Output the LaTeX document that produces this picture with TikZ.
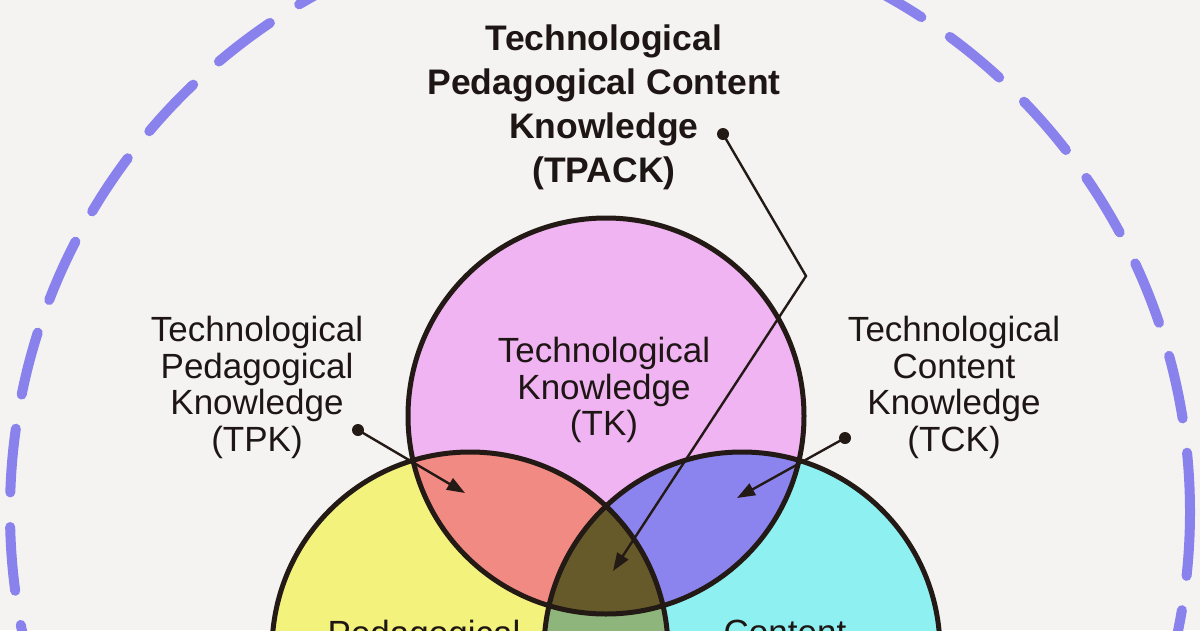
\documentclass[tikz,border=0pt]{standalone}
\usepackage{fontspec}
\setmainfont{Liberation Sans}
\usetikzlibrary{arrows.meta}
\definecolor{bgcol}{RGB}{244,243,242}
\definecolor{dashcol}{RGB}{138,130,236}
\definecolor{tcol}{RGB}{240,180,242}
\definecolor{pcol}{RGB}{243,242,124}
\definecolor{ccol}{RGB}{142,240,240}
\definecolor{tpcol}{RGB}{240,138,130}
\definecolor{tccol}{RGB}{140,132,238}
\definecolor{pccol}{RGB}{142,182,124}
\definecolor{tpccol}{RGB}{103,90,42}
\definecolor{linecol}{RGB}{35,26,22}
\definecolor{txtcol}{RGB}{30,22,20}
\begin{document}
\begin{tikzpicture}[x=1pt,y=-1pt,
  lbl/.style={font=\fontsize{35}{36.5}\selectfont, align=center, inner sep=0pt, anchor=north, text=txtcol},
  titlelbl/.style={font=\fontsize{35.5}{44}\selectfont\bfseries, align=center, inner sep=0pt, anchor=north, text=txtcol},
  outline/.style={draw=linecol, line width=5pt},
  pointer/.style={draw=linecol, line width=2.4pt, -{Triangle[length=18pt,width=13pt]}},
  dotmark/.style={fill=linecol},
  ctx/.style={draw=dashcol, line width=10pt, line cap=round, dash pattern=on 64pt off 34.6pt}
]
\useasboundingbox (0,0) rectangle (1200,630);
\clip (0,0) rectangle (1200,630);
\fill[bgcol] (0,0) rectangle (1200,630);

% contexts (dashed circle)
\coordinate (ctxc) at (600,512);
\draw[ctx] (ctxc) circle[radius=590];

% Venn circle centres
\coordinate (T) at (606,416);
\coordinate (P) at (470,650);
\coordinate (C) at (742,650);

% base fills
\fill[pcol] (P) circle[radius=198pt];
\fill[ccol] (C) circle[radius=198pt];
\fill[tcol] (T) circle[radius=198pt];
% pairwise intersections
\begin{scope}
  \clip (T) circle[radius=198pt];
  \fill[tpcol] (P) circle[radius=198pt];
\end{scope}
\begin{scope}
  \clip (T) circle[radius=198pt];
  \fill[tccol] (C) circle[radius=198pt];
\end{scope}
\begin{scope}
  \clip (P) circle[radius=198pt];
  \fill[pccol] (C) circle[radius=198pt];
\end{scope}
\begin{scope}
  \clip (T) circle[radius=198pt];
  \clip (P) circle[radius=198pt];
  \fill[tpccol] (C) circle[radius=198pt];
\end{scope}
% outlines
\draw[outline] (P) circle[radius=198pt];
\draw[outline] (C) circle[radius=198pt];
\draw[outline] (T) circle[radius=198pt];

% labels
\node[titlelbl] (tpack) at (604,24.5) {Technological\\Pedagogical Content\\Knowledge\\(TPACK)};
\node[lbl] (tk) at (604,337) {Technological\\Knowledge\\(TK)};
\node[lbl] (tpk) at (257,316) {Technological\\Pedagogical\\Knowledge\\(TPK)};
\node[lbl] (tck) at (954,316) {Technological\\Content\\Knowledge\\(TCK)};
\node[lbl] (pk) at (424,620) {Pedagogical};
\node[lbl] (ck) at (785,620) {Content};

% pointers
\coordinate (tpkdot) at (358,430);
\coordinate (tpktip) at (465,493);
\coordinate (tckdot) at (845,438);
\coordinate (tcktip) at (737,498);
\coordinate (tpackdot) at (723,134);
\coordinate (tpackbend) at (806,276);
\coordinate (tpacktip) at (613,571);

\draw[pointer] (tpkdot) -- (tpktip);
\draw[pointer] (tckdot) -- (tcktip);
\draw[pointer] (tpackdot) -- (tpackbend) -- (tpacktip);
\fill[dotmark] (tpkdot) circle[radius=6pt];
\fill[dotmark] (tckdot) circle[radius=6pt];
\fill[dotmark] (tpackdot) circle[radius=6pt];
\end{tikzpicture}
\end{document}
